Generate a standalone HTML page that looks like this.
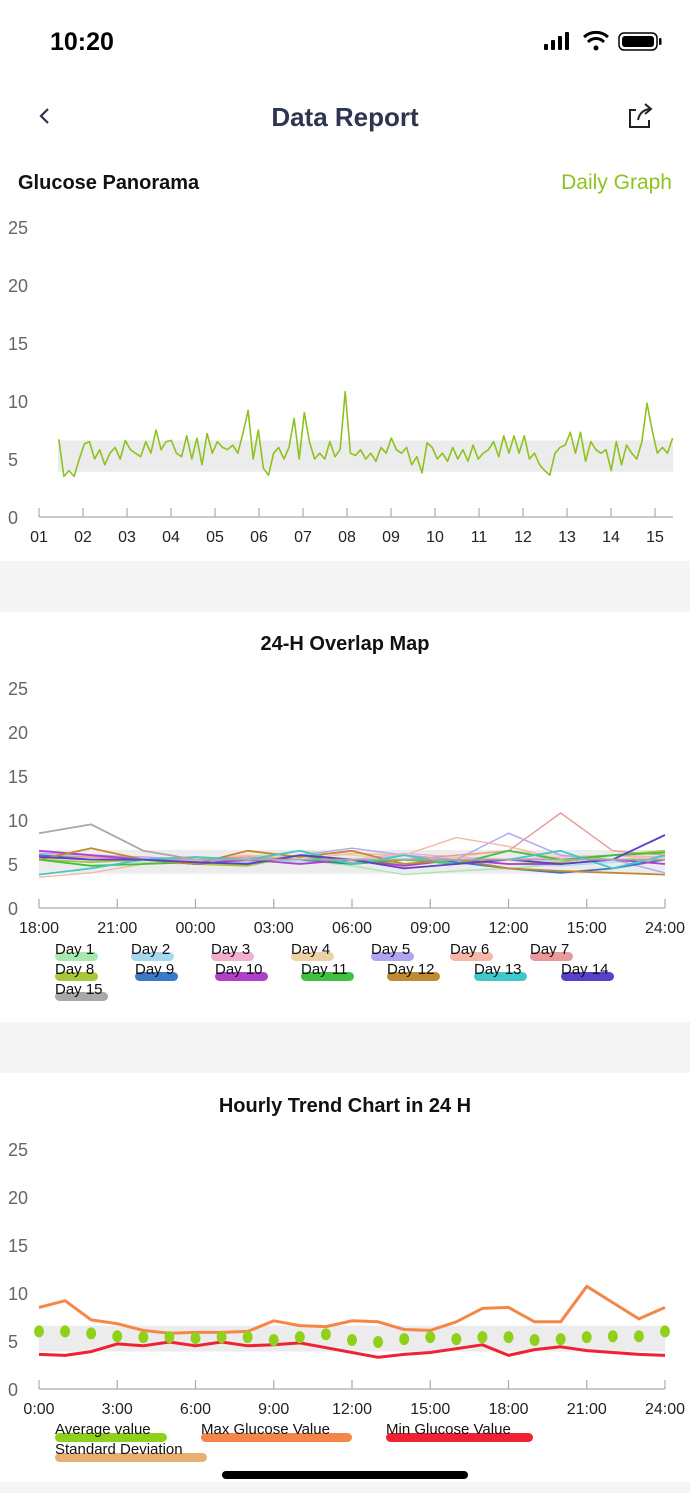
<!DOCTYPE html>
<html><head><meta charset="utf-8">
<style>
html,body{margin:0;padding:0;width:690px;height:1493px;background:#fff;overflow:hidden;font-family:"Liberation Sans",sans-serif;}
svg{position:absolute;left:0;top:0}
</style></head>
<body>
<svg id="s" width="690" height="1493" viewBox="0 0 690 1493" xmlns="http://www.w3.org/2000/svg" font-family="Liberation Sans, sans-serif">
  <text x="50" y="50" font-size="25" font-weight="bold" fill="#000">10:20</text>
  <g>
    <rect x="544" y="44" width="4" height="6" rx="1" fill="#000"/><rect x="551" y="40" width="4" height="10" rx="1" fill="#000"/>
    <rect x="558" y="36" width="4" height="14" rx="1" fill="#000"/><rect x="565" y="32" width="4" height="18" rx="1" fill="#000"/>
    <path d="M584 37 a18 18 0 0 1 24 0" stroke="#000" stroke-width="3" fill="none"/>
    <path d="M588 42 a11 11 0 0 1 16 0" stroke="#000" stroke-width="3" fill="none"/>
    <circle cx="596" cy="48" r="2.5" fill="#000"/>
    <rect x="619" y="33" width="38" height="17" rx="5" fill="none" stroke="#000" stroke-width="1.5"/>
    <rect x="622" y="36" width="32" height="11" rx="3" fill="#000"/>
    <rect x="659" y="38" width="2.5" height="7" rx="1" fill="#000"/>
  </g>
  <path d="M48 109 l-7 7 l7 7" stroke="#2c3450" stroke-width="2.2" fill="none"/>
  <text x="345" y="126" font-size="26" font-weight="bold" fill="#2e3550" text-anchor="middle">Data Report</text>
  <g stroke="#222" stroke-width="2" fill="none">
    <path d="M636 110 h-6 v17 h19 v-7"/><path d="M638 120 q2 -10 12 -11"/><path d="M645 104 l6 5 l-6 5"/>
  </g>
  <text x="18" y="189" font-size="20" font-weight="bold" fill="#111">Glucose Panorama</text>
  <text x="672" y="189" font-size="21" fill="#8dc21f" text-anchor="end">Daily Graph</text>
  <rect x="0" y="561" width="690" height="51" fill="#f5f5f5"/>
  <text x="345" y="650" font-size="20" font-weight="bold" fill="#111" text-anchor="middle">24-H Overlap Map</text>
  <rect x="0" y="1022" width="690" height="51" fill="#f5f5f5"/>
  <text x="345" y="1112" font-size="20" font-weight="bold" fill="#111" text-anchor="middle">Hourly Trend Chart in 24 H</text>
  <rect x="0" y="1482" width="690" height="11" fill="#f5f5f5"/>
  <rect x="222" y="1471" width="246" height="8" rx="4" fill="#000"/>
  <g id="c1"></g><g id="c2"></g><g id="c3"></g>
</svg>
<script>
const panoramaDays=["01","02","03","04","05","06","07","08","09","10","11","12","13","14","15"];
const yTicks=[0,5,10,15,20,25];
const panoramaValues=[6.7,3.5,4.0,3.5,5.0,6.3,6.5,5.0,5.8,4.5,5.5,6.0,5.0,6.6,5.8,5.5,5.2,6.5,5.5,7.5,5.8,6.5,6.6,5.5,5.2,7.0,5.0,6.8,4.5,7.2,5.5,6.5,6.0,5.8,6.2,5.5,7.2,9.2,5.0,7.5,4.2,3.6,5.5,6.0,5.0,6.0,8.5,5.0,9.0,6.5,5.0,5.5,5.0,6.5,5.2,5.8,10.8,5.5,5.3,5.8,5.0,5.5,4.8,6.0,5.5,6.8,5.8,5.5,6.0,4.5,5.2,3.8,6.4,6.0,5.0,5.5,4.8,6.0,5.0,5.8,4.8,6.2,5.0,5.5,5.8,6.5,5.2,7.0,5.5,7.0,5.5,7.0,5.0,5.5,4.5,4.0,3.6,5.5,6.0,6.2,7.3,5.5,7.3,4.8,6.5,5.8,5.5,5.8,4.0,6.5,4.5,6.2,5.5,5.0,6.5,9.8,7.5,5.5,6.0,5.5,6.8];
const panoramaStart=1.45, panoramaEnd=15.4;
const targetLow=3.9, targetHigh=6.6;

const overlapLabels=["18:00","21:00","00:00","03:00","06:00","09:00","12:00","15:00","24:00"];
const dayNames=["Day 1","Day 2","Day 3","Day 4","Day 5","Day 6","Day 7","Day 8","Day 9","Day 10","Day 11","Day 12","Day 13","Day 14","Day 15"];
const dayColors=["#a6e8b0","#a8d8ef","#f2b0cc","#ecd3a6","#b0a6f0","#f5b8a6","#e89a9a","#a8c83a","#3a78c8","#b040c8","#40c040","#c08a30","#40c8c8","#5a40c8","#a8a8a8"];
const day1=[5.8,5.5,5.2,5.0,5.3,5.5,4.8,3.8,4.2,4.5,5.0,5.5,5.8];
const day2=[6.0,5.8,5.5,5.3,5.6,5.2,5.5,6.0,5.5,5.0,4.8,5.2,5.5];
const day3=[5.5,5.2,5.6,5.8,5.5,6.0,5.5,6.2,5.8,5.5,5.8,6.0,5.5];
const day4=[5.5,5.8,5.5,5.2,5.8,6.5,6.0,5.5,5.8,6.5,6.0,5.5,5.8];
const day5=[6.2,6.0,5.8,5.5,5.2,6.0,6.8,6.0,5.5,8.5,6.0,5.5,4.0];
const day6=[3.5,4.0,5.0,5.5,6.0,5.5,6.2,6.0,8.0,7.0,5.5,6.0,5.8];
const day7=[6.0,5.8,5.5,5.5,5.8,5.5,5.2,5.5,6.0,6.5,10.8,6.5,6.0];
const day8=[5.5,5.2,5.5,5.0,4.8,6.0,5.5,5.0,5.5,5.0,5.2,6.0,6.5];
const day9=[6.0,5.5,5.5,5.0,5.5,5.5,5.0,5.5,5.2,4.5,4.0,4.5,5.5];
const day10=[6.5,6.0,5.5,5.0,5.5,5.0,5.5,4.8,5.5,5.0,5.0,5.5,5.0];
const day11=[5.5,4.8,5.0,5.2,5.0,6.0,5.0,5.5,5.0,6.5,5.5,6.0,6.3];
const day12=[5.5,6.8,5.5,5.0,6.5,5.8,6.5,5.0,5.5,4.5,4.2,4.0,3.8];
const day13=[3.8,4.5,5.5,5.8,5.5,6.5,5.0,6.0,5.0,5.5,6.5,4.5,6.0];
const day14=[5.8,5.5,5.5,5.2,5.0,6.0,5.5,4.5,5.0,5.5,5.0,5.5,8.3];
const day15=[8.5,9.5,6.5,5.5,5.5,5.5,5.5,5.5,5.5,5.5,5.5,5.5,5.5];
const daySeries=[day1,day2,day3,day4,day5,day6,day7,day8,day9,day10,day11,day12,day13,day14,day15];

const hourLabels=["0:00","3:00","6:00","9:00","12:00","15:00","18:00","21:00","24:00"];
const maxValues=[8.5,9.2,7.2,6.8,6.1,5.8,5.9,5.9,6.0,7.1,6.6,6.5,7.1,7.0,6.2,6.1,7.0,8.4,8.5,7.0,7.0,10.7,9.0,7.3,8.5];
const minValues=[3.6,3.5,3.9,4.7,4.5,4.9,4.5,4.9,4.5,4.6,4.8,4.3,3.8,3.3,3.6,3.8,4.2,4.6,3.5,4.1,4.4,4.0,3.8,3.6,3.5];
const avgValues=[6.0,6.0,5.8,5.5,5.4,5.4,5.3,5.4,5.4,5.1,5.4,5.7,5.1,4.9,5.2,5.4,5.2,5.4,5.4,5.1,5.2,5.4,5.5,5.5,6.0];
const legend3=["Average value","Max Glucose Value","Min Glucose Value","Standard Deviation"];
const legend3Colors=["#8fd11a","#f5864a","#ee2233","#e8b070"];

const NS="http://www.w3.org/2000/svg";
function mk(parent,tag,attrs){const e=document.createElementNS(NS,tag);for(const k in attrs)e.setAttribute(k,attrs[k]);parent.appendChild(e);return e;}

function axes(g,y0,pxPerUnit,x0,x1,labels,labelStyle){
  const y=v=>y0-v*pxPerUnit;
  yTicks.forEach(t=>{const tx=mk(g,'text',{x:8,y:y(t)+7,'font-size':18,fill:'#666'});tx.textContent=t;
    
    });
  const ax=mk(g,'line',{x1:x0,x2:x1,y1:y0,y2:y0,stroke:'#aaa','stroke-width':1.2});
  
  
  return y;
}

// Chart 1
(function(){
  const g=document.getElementById('c1');
  const y0=517,k=11.6,x0=39,step=44;
  const y=axes(g,y0,k,x0,673);
  const x=d=>x0+(d-1)*step;
  const band=mk(g,'rect',{x:58,y:y(targetHigh),width:673-58,height:(targetHigh-targetLow)*k,fill:'#ececec'});
  
  
  panoramaDays.forEach((d,i)=>{
    mk(g,'line',{x1:x(i+1),x2:x(i+1),y1:y0,y2:y0-9,stroke:'#aaa','stroke-width':1.2});
    const t=mk(g,'text',{x:x(i+1),y:y0+25,'font-size':16,fill:'#222','text-anchor':'middle'});t.textContent=d;
    
    
  });
  const n=panoramaValues.length;
  const pts=panoramaValues.map((v,i)=>x(panoramaStart+(panoramaEnd-panoramaStart)*i/(n-1)).toFixed(1)+','+y(v).toFixed(1)).join(' ');
  const pl=mk(g,'polyline',{points:pts,fill:'none',stroke:'#8dc21f','stroke-width':1.6,'stroke-linejoin':'round'});
  
  
})();

// Chart 2
(function(){
  const g=document.getElementById('c2');
  const y0=908,k=8.8,x0=39,x1=665;
  const y=axes(g,y0,k,x0,x1);
  const xs=(x1-x0)/(overlapLabels.length-1);
  const band=mk(g,'rect',{x:x0,y:y(targetHigh),width:x1-x0,height:(targetHigh-targetLow)*k,fill:'#ececec'});
  
  
  overlapLabels.forEach((l,i)=>{
    mk(g,'line',{x1:x0+i*xs,x2:x0+i*xs,y1:y0,y2:y0-9,stroke:'#aaa','stroke-width':1.2});
    const t=mk(g,'text',{x:x0+i*xs,y:y0+25,'font-size':16,fill:'#222','text-anchor':'middle'});t.textContent=l;
    
    
  });
  daySeries.forEach((s,j)=>{
    const n=s.length;
    const pts=s.map((v,i)=>(x0+(x1-x0)*i/(n-1)).toFixed(1)+','+y(v).toFixed(1)).join(' ');
    const pl=mk(g,'polyline',{points:pts,fill:'none',stroke:dayColors[j],'stroke-width':j>=7?1.8:1.4,'stroke-linejoin':'round'});
    
    
  });
  const lx=[[55,131,211,291,371,450,530],[55,135,215,301,387,474,561],[55]];
  let idx=0;
  lx.forEach((row,r)=>row.forEach(px=>{
    const ly=954+r*20;
    const w=dayNames[idx].length>5?53:43;
    const gi=mk(g,'g',{});
    
    
    mk(gi,'rect',{x:px,y:ly-2,width:w,height:9,rx:4.5,fill:dayColors[idx]});
    const t=mk(gi,'text',{x:px,y:ly,'font-size':15,fill:'#111'});t.textContent=dayNames[idx];
    idx++;
  }));
})();

// Chart 3
(function(){
  const g=document.getElementById('c3');
  const y0=1389,k=9.6,x0=39,x1=665;
  const y=axes(g,y0,k,x0,x1);
  const x=h=>x0+(x1-x0)*h/24;
  const band=mk(g,'rect',{x:x0,y:y(targetHigh),width:x1-x0,height:(targetHigh-targetLow)*k,fill:'#ececec'});
  
  
  hourLabels.forEach((l,i)=>{
    mk(g,'line',{x1:x(i*3),x2:x(i*3),y1:y0,y2:y0-9,stroke:'#aaa','stroke-width':1.2});
    const t=mk(g,'text',{x:x(i*3),y:y0+25,'font-size':16,fill:'#222','text-anchor':'middle'});t.textContent=l;
    
    
  });
  const line=(arr,c,name)=>{
    const pl=mk(g,'polyline',{points:arr.map((v,i)=>x(i).toFixed(1)+','+y(v).toFixed(1)).join(' '),fill:'none',stroke:c,'stroke-width':3,'stroke-linejoin':'round'});
    
    
  };
  line(maxValues,legend3Colors[1],'max-line');
  line(minValues,legend3Colors[2],'min-line');
  avgValues.forEach((v,i)=>{
    const c=mk(g,'ellipse',{cx:x(i),cy:y(v),rx:5,ry:6,fill:legend3Colors[0]});
    
    
  });
  const pos=[[55,1434,112],[201,1434,151],[386,1434,147],[55,1454,152]];
  legend3.forEach((l,i)=>{
    const gi=mk(g,'g',{});
    
    
    mk(gi,'rect',{x:pos[i][0],y:pos[i][1]-1,width:pos[i][2],height:9,rx:4.5,fill:legend3Colors[i]});
    const t=mk(gi,'text',{x:pos[i][0],y:pos[i][1],'font-size':15,fill:'#111'});t.textContent=l;
  });
})();
</script>
</body></html>
